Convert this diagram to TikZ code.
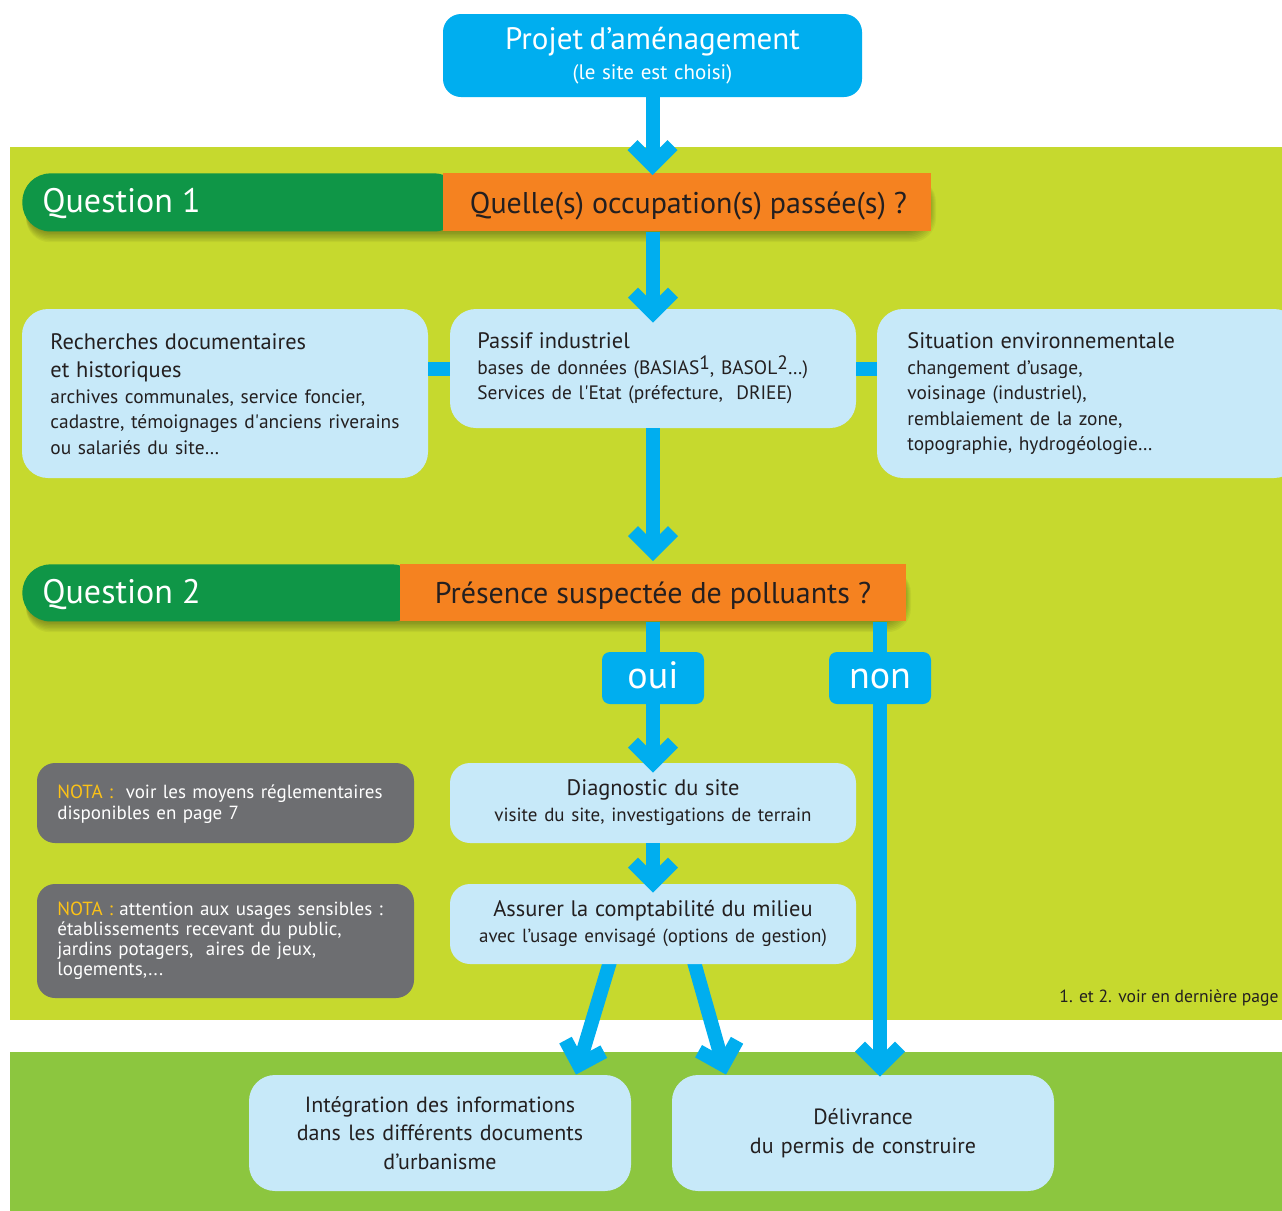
\documentclass[tikz,border=0pt]{standalone}
\usepackage{fontspec}
\setmainfont{PT Sans}
\usetikzlibrary{calc}
\definecolor{cyanA}{HTML}{00AEEF}
\definecolor{lblue}{HTML}{C7E9F9}
\definecolor{limeA}{HTML}{C6D92E}
\definecolor{grnB}{HTML}{8CC63F}
\definecolor{qgreen}{HTML}{0F9647}
\definecolor{qorange}{HTML}{F58220}
\definecolor{grayN}{HTML}{6D6E71}
\definecolor{yelN}{HTML}{FCC216}
\definecolor{darkT}{HTML}{231F20}
\pgfdeclarelayer{bgl}
\pgfdeclarelayer{under}
\pgfsetlayers{bgl,under,main}
\pgfdeclarearrow{
  name = Chev,
  setup code = {
    \pgfarrowssettipend{0pt}
    \pgfarrowssetlineend{-10pt}
    \pgfarrowshullpoint{0pt}{0pt}
    \pgfarrowsupperhullpoint{-12.5pt}{12.5pt}
    \pgfarrowsupperhullpoint{-17.5pt}{7.5pt}
  },
  drawing code = {
    \pgfpathmoveto{\pgfqpoint{0pt}{0pt}}
    \pgfpathlineto{\pgfqpoint{-12.5pt}{12.5pt}}
    \pgfpathlineto{\pgfqpoint{-17.5pt}{7.5pt}}
    \pgfpathlineto{\pgfqpoint{-13.5pt}{3.5pt}}
    \pgfpathlineto{\pgfqpoint{-13.5pt}{-3.5pt}}
    \pgfpathlineto{\pgfqpoint{-17.5pt}{-7.5pt}}
    \pgfpathlineto{\pgfqpoint{-12.5pt}{-12.5pt}}
    \pgfpathclose
    \pgfusepathqfill
  }
}
\newcommand\myqlab{\fontsize{17}{20}\selectfont}
\newcommand\myqtxt{\fontsize{15}{18}\selectfont}
\newcommand\myon{\fontsize{19}{22}\selectfont}
\newcommand\myftit{\fontsize{11.2}{14}\selectfont}
\newcommand\myfsub{\fontsize{9.7}{12.75}\selectfont}
\newcommand\mysup[1]{\raisebox{2.5pt}{#1}}
\begin{document}
\begin{tikzpicture}[x=0.5pt,y=-0.5pt,
  cbox/.style={fill=cyanA, text=white, inner sep=0pt},
  lbox/.style={fill=lblue, rounded corners=13pt, inner sep=0pt, text=darkT},
  gbox/.style={fill=grayN, rounded corners=9pt, inner sep=0pt},
  txt/.style={inner sep=0pt, text=darkT},
  flow/.style={draw=cyanA, fill=cyanA, line width=7pt, -Chev},
  bar/.style={draw=cyanA, line width=7pt},
]
\useasboundingbox (0,0) rectangle (1282,1211);
\begin{pgfonlayer}{bgl}
  \fill[white] (0,0) rectangle (1282,1211);
  \fill[limeA] (10,147) rectangle (1282,1020);
  \fill[grnB] (10,1052) rectangle (1282,1211);
\end{pgfonlayer}

% top box
\node[cbox, rounded corners=9pt, minimum width=209.5pt, minimum height=41.5pt,
      text width=200pt, align=center] (top) at (652.5,55.5)
  {{\fontsize{15.5}{18}\selectfont Projet d’aménagement\par}%
   {\fontsize{10.5}{15}\selectfont (le site est choisi)\par}};

% shadows of the question bands
\foreach \k in {1,...,8} {
  \fill[black, opacity=0.045, rounded corners=12pt] (26,178) rectangle (928+\k,231+1.4*\k);
  \fill[black, opacity=0.045, rounded corners=12pt] (26,569) rectangle (903+\k,621+1.4*\k);
}

% Question 1
\node[fill=qgreen, rounded corners=14pt, minimum width=220pt, minimum height=29pt,
      inner sep=0pt, anchor=north west] (q1g) at (22,173) {};
\node[fill=qorange, minimum width=244pt, minimum height=29pt, inner sep=0pt,
      anchor=north west] (q1o) at (443,173) {};
\node[inner sep=0pt, text=white, font=\myqlab, anchor=base west] (q1l) at (42,212) {Question 1};
\node[txt, font=\myqtxt, anchor=base] (q1q) at (688.5,213) {Quelle(s) occupation(s) passée(s) ?};

% Question 2
\node[fill=qgreen, rounded corners=14pt, minimum width=199pt, minimum height=28.5pt,
      inner sep=0pt, anchor=north west] (q2g) at (22,564) {};
\node[fill=qorange, minimum width=253pt, minimum height=28.5pt, inner sep=0pt,
      anchor=north west] (q2o) at (400,564) {};
\node[inner sep=0pt, text=white, font=\myqlab, anchor=base west] (q2l) at (42,603) {Question 2};
\node[txt, font=\myqtxt, anchor=base] (q2q) at (653,603) {Présence suspectée de polluants ?};

% row of three boxes
\node[lbox, minimum width=203pt, minimum height=84.5pt] (rech) at (225,393.5) {};
\node[txt, anchor=west, text width=195pt, align=left] (recht) at (50,394)
  {{\myftit Recherches documentaires\\et historiques\par}%
   {\myfsub archives communales, service foncier,\\cadastre, témoignages d\textquotesingle anciens riverains\\ou salariés du site…\par}};

\node[lbox, minimum width=203pt, minimum height=59.5pt] (passif) at (653,368.5) {};
\node[txt, anchor=west, text width=185pt, align=left] (passift) at (477,368.5)
  {{\myftit Passif industriel\par}%
   {\myfsub bases de données (BASIAS\mysup{1}, BASOL\mysup{2}…)\\Services de l\textquotesingle Etat (préfecture,\ \ DRIEE)\par}};

\node[lbox, minimum width=211.5pt, minimum height=84.5pt] (situ) at (1088.5,393.5) {};
\node[txt, anchor=west, text width=185pt, align=left] (situt) at (907,394)
  {{\myftit Situation environnementale\par}%
   {\myfsub changement d’usage,\\voisinage (industriel),\\remblaiement de la zone,\\topographie, hydrogéologie…\par}};

\draw[bar] (rech.east |- passif.west) -- (passif.west);
\draw[bar] (passif.east) -- (passif.east -| situ.west);

% oui / non
\node[cbox, rounded corners=4pt, minimum width=51pt, minimum height=26pt, font=\myon,
      text height=10pt, text depth=0pt] (oui) at (653,678) {oui};
\node[cbox, rounded corners=4pt, minimum width=51pt, minimum height=26pt, font=\myon,
      text height=10pt, text depth=0pt] (non) at (880,678) {non};
\draw[bar] (q2o.south -| oui.north) -- (oui.north);
\draw[bar] (q2o.south -| non.north) -- (non.north);

% diagnostic and assurer
\node[lbox, rounded corners=10pt, minimum width=203pt, minimum height=40pt,
      text width=200pt, align=center] (diag) at (653,803)
  {{\myftit Diagnostic du site\par}{\fontsize{9.5}{13}\selectfont visite du site, investigations de terrain\par}};
\node[lbox, rounded corners=10pt, minimum width=203pt, minimum height=40pt,
      text width=200pt, align=center] (assur) at (653,924)
  {{\myftit Assurer la comptabilité du milieu\par}{\fontsize{9.5}{13}\selectfont avec l’usage envisagé (options de gestion)\par}};

% NOTA boxes
\node[gbox, minimum width=188.5pt, minimum height=40pt] (nota1) at (225.5,803) {};
\node[inner sep=0pt, text=white, anchor=west, text width=185pt, align=left,
      font=\fontsize{9.5}{10.5}\selectfont] (nota1t) at (57,804)
  {\textcolor{yelN}{NOTA :}\ \ voir les moyens réglementaires\\disponibles en page 7};
\node[gbox, minimum width=188.5pt, minimum height=57pt] (nota2) at (225.5,941) {};
\node[inner sep=0pt, text=white, anchor=west, text width=185pt, align=left,
      font=\fontsize{9.5}{10}\selectfont] (nota2t) at (57,941)
  {\textcolor{yelN}{NOTA :} attention aux usages sensibles :\\établissements recevant du public,\\jardins potagers,\ \ aires de jeux,\\logements,...};

% footnote
\node[txt, anchor=base east, font=\fontsize{8.8}{10}\selectfont] (foot) at (1279,1002)
  {1. et 2. voir en dernière page};

% bottom boxes
\node[lbox, minimum width=191pt, minimum height=58pt, text width=185pt, align=center,
      font=\fontsize{11}{14.25}\selectfont] (integ) at (440,1133)
  {Intégration des informations\\dans les différents documents\\d’urbanisme};
\node[lbox, minimum width=191pt, minimum height=58pt, text width=185pt, align=center,
      font=\fontsize{11}{14.5}\selectfont] (deliv) at (863,1133)
  {Délivrance\\du permis de construire};

% flow arrows
\draw[flow] (top.south) -- ($(top.south |- q1o.north)+(0,2)$);
\draw[flow] (passif.north |- q1o.south) -- ($(passif.north)+(0,14)$);
\draw[flow] (passif.south) -- ($(passif.south |- q2o.north)+(0,-3)$);
\draw[flow] (oui.south) -- ($(diag.north)+(0,10)$);
\draw[flow] (non.south) -- ($(non.south |- deliv.north)+(0,2)$);
\draw[flow] (diag.south) -- ($(assur.north)+(0,9)$);
\begin{pgfonlayer}{under}
  \draw[flow] ($(assur.south)+(-42,-6)$) -- ($(integ.north)+(136,0)$);
  \draw[flow] ($(assur.south)+(40,-6)$) -- ($(deliv.north)+(-137,0)$);
\end{pgfonlayer}
\end{tikzpicture}
\end{document}
